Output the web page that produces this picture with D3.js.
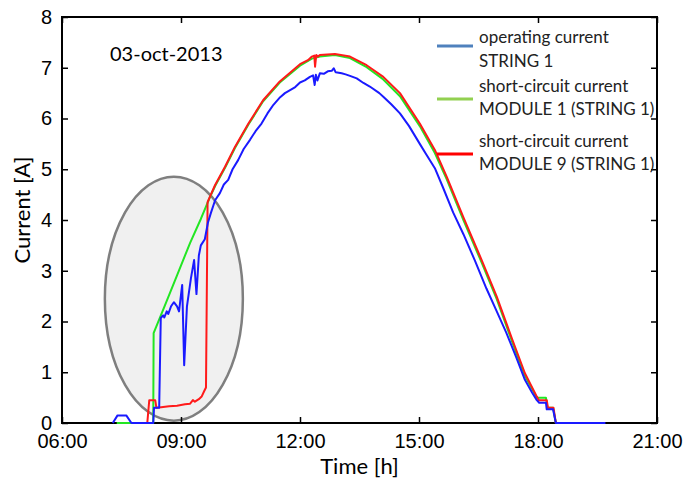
<!DOCTYPE html>
<html>
<head>
<meta charset="utf-8">
<script src="https://cdn.jsdelivr.net/npm/d3@7"></script>
<style>
  body { margin: 0; background: #fff; }
  .tick text { font-family: "Liberation Sans", Arial, sans-serif; }
</style>
</head>
<body>
<div id="chart"></div>
<script>
// operating current STRING 1 (blue)
const opTime = [7.28, 7.40, 7.62, 7.75, 8.30, 8.32, 8.45, 8.49, 8.55, 8.58, 8.64, 8.68, 8.75, 8.82, 8.90, 8.95,
  9.03, 9.08, 9.15, 9.25, 9.33, 9.39, 9.45, 9.50, 9.60, 9.68, 9.75, 9.86, 9.98, 10.08, 10.19, 10.30, 10.44,
  10.58, 10.74, 10.88, 11.03, 11.18, 11.33, 11.50, 11.62, 11.75, 11.88, 12.00, 12.12, 12.25, 12.33, 12.37,
  12.40, 12.44, 12.50, 12.60, 12.70, 12.80, 12.85, 12.90, 13.05, 13.15, 13.26, 13.43, 13.60, 13.76, 14.00,
  14.10, 14.30, 14.52, 14.75, 15.02, 15.20, 15.40, 15.60, 15.86, 16.12, 16.41, 16.70, 16.96, 17.20, 17.45,
  17.67, 17.85, 17.97, 18.03, 18.20, 18.22, 18.38, 18.45, 19.70];
const opCurrent = [0, 0.15, 0.15, 0, 0, 0.30, 0.30, 2.07, 2.12, 2.08, 2.20, 2.15, 2.30, 2.38, 2.30, 2.20,
  2.72, 1.14, 2.30, 2.85, 3.21, 2.54, 3.30, 3.50, 3.62, 3.95, 4.13, 4.39, 4.53, 4.70, 4.79, 5.00, 5.18,
  5.40, 5.58, 5.75, 5.90, 6.10, 6.27, 6.42, 6.50, 6.56, 6.62, 6.71, 6.75, 6.82, 6.85, 6.66,
  6.86, 6.75, 6.89, 6.88, 6.93, 6.94, 6.99, 6.91, 6.89, 6.87, 6.84, 6.79, 6.70, 6.63, 6.50,
  6.43, 6.28, 6.10, 5.85, 5.50, 5.27, 5.02, 4.65, 4.15, 3.72, 3.20, 2.65, 2.20, 1.78, 1.30,
  0.85, 0.60, 0.45, 0.40, 0.40, 0.27, 0.27, 0, 0];

// short-circuit current MODULE 1 (green)
const m1Time = [7.38, 8.30, 8.31, 8.60, 8.90, 9.23, 9.50, 9.73, 9.86, 10.11, 10.36, 10.70, 11.07, 11.49,
  12.00, 12.30, 12.50, 12.88, 13.26, 13.68, 14.10, 14.52, 15.02, 15.40, 15.70, 16.12, 16.58, 16.96,
  17.34, 17.67, 17.97, 18.02, 18.20, 18.24, 18.38, 18.45];
const m1Current = [0, 0, 1.77, 2.33, 2.91, 3.55, 4.02, 4.45, 4.67, 5.03, 5.42, 5.88, 6.34, 6.71,
  7.04, 7.18, 7.22, 7.25, 7.19, 7.01, 6.77, 6.44, 5.85, 5.32, 4.80, 4.00, 3.16, 2.44,
  1.62, 0.93, 0.50, 0.50, 0.50, 0.30, 0.30, 0];

// short-circuit current MODULE 9 (red)
const m9Time = [8.15, 8.20, 8.35, 8.38, 8.50, 8.70, 8.90, 9.10, 9.23, 9.30, 9.35, 9.45, 9.52, 9.58, 9.63,
  9.67, 9.73, 9.86, 10.11, 10.36, 10.70, 11.07, 11.49, 12.00, 12.20, 12.30, 12.36, 12.38, 12.41, 12.45,
  12.50, 12.88, 13.26, 13.68, 14.10, 14.52, 15.02, 15.40, 15.70, 16.12, 16.58, 16.96, 17.34, 17.67,
  17.97, 18.02, 18.22, 18.25, 18.39, 18.45];
const m9Current = [0, 0.45, 0.45, 0.30, 0.31, 0.33, 0.34, 0.37, 0.38, 0.45, 0.42, 0.47, 0.52, 0.62, 0.70,
  4.35, 4.46, 4.69, 5.05, 5.44, 5.90, 6.36, 6.73, 7.07, 7.15, 7.22, 7.24, 7.02, 7.25, 7.22,
  7.25, 7.27, 7.22, 7.05, 6.82, 6.50, 5.90, 5.38, 4.85, 4.05, 3.21, 2.49, 1.67, 0.98,
  0.52, 0.45, 0.45, 0.30, 0.30, 0];

const xTicks = [6, 9, 12, 15, 18, 21];
const yTicks = [0, 1, 2, 3, 4, 5, 6, 7, 8];
const legendLabels = [["operating current", "STRING 1"],
  ["short-circuit current", "MODULE 1 (STRING 1)"],
  ["short-circuit current", "MODULE 9 (STRING 1)"]];

const width = 684, height = 481;
const margin = { top: 17, right: 27, bottom: 58, left: 62 };
const w = width - margin.left - margin.right;
const h = height - margin.top - margin.bottom;

const svg = d3.select("#chart").append("svg")
  .attr("width", width)
  .attr("height", height);

const g = svg.append("g")
  .attr("transform", `translate(${margin.left},${margin.top})`);

const x = d3.scaleLinear().domain([6, 21]).range([0, w]);
const y = d3.scaleLinear().domain([0, 8]).range([h, 0]);

const fmt = d => String(d).padStart(2, "0") + ":00";

// the highlighted morning region
g.append("ellipse")
  .attr("cx", x(8.82))
  .attr("cy", y(2.45))
  .attr("rx", 69)
  .attr("ry", 122)
  .attr("fill", "#f0f0f0")
  .attr("stroke", "#7f7f7f")
  .attr("stroke-width", 2.5);

// axes, ticks pointing inward
const xAxis = g.append("g")
  .attr("transform", `translate(0,${h})`)
  .call(d3.axisBottom(x).tickValues(xTicks).tickFormat(fmt).tickSizeInner(-6).tickSizeOuter(0).tickPadding(11));
const yAxis = g.append("g")
  .call(d3.axisLeft(y).tickValues(yTicks).tickSizeInner(-6).tickSizeOuter(0).tickPadding(10));
g.append("g")
  .call(d3.axisTop(x).tickValues(xTicks).tickFormat("").tickSizeInner(-6).tickSizeOuter(0));
g.append("g")
  .attr("transform", `translate(${w},0)`)
  .call(d3.axisRight(y).tickValues(yTicks).tickFormat("").tickSizeInner(-6).tickSizeOuter(0));

g.selectAll(".domain").remove();
g.selectAll(".tick line").attr("stroke", "#000").attr("stroke-width", 1.5);
g.selectAll(".tick text").attr("font-size", 20).attr("fill", "#000");
xAxis.selectAll(".tick text").attr("dy", "0.71em");

g.append("rect")
  .attr("width", w)
  .attr("height", h)
  .attr("fill", "none")
  .attr("stroke", "#000")
  .attr("stroke-width", 2);

const line = d3.line()
  .x(d => x(d[0]))
  .y(d => y(d[1]));

const series = [
  { t: m1Time, v: m1Current, color: "#22e622" },
  { t: m9Time, v: m9Current, color: "#ff1a1a" },
  { t: opTime, v: opCurrent, color: "#1a1aff" }
];

series.forEach(s => {
  g.append("path")
    .datum(s.t.map((t, i) => [t, s.v[i]]))
    .attr("fill", "none")
    .attr("stroke", s.color)
    .attr("stroke-width", 2)
    .attr("stroke-linejoin", "round")
    .attr("d", line);
});

// labels
svg.append("text")
  .attr("x", margin.left + w / 2)
  .attr("y", 474)
  .attr("text-anchor", "middle")
  .attr("font-family", "Lato, sans-serif")
  .attr("font-size", 22)
  .text("Time [h]");

svg.append("text")
  .attr("transform", `translate(30,${margin.top + h / 2 - 10}) rotate(-90)`)
  .attr("text-anchor", "middle")
  .attr("font-family", "Lato, sans-serif")
  .attr("font-size", 22)
  .text("Current [A]");

svg.append("text")
  .attr("x", 110)
  .attr("y", 61)
  .attr("font-family", "Lato, sans-serif")
  .attr("font-size", 20)
  .text("03-oct-2013");

// legend
const legendColors = ["#4f81bd", "#92d050", "#ff0000"];
const legendLineY = [46, 99, 154];
const legendTextY = [43, 67, 92, 115, 147, 170];
legendLabels.forEach((lab, i) => {
  svg.append("line")
    .attr("x1", 437).attr("x2", 473)
    .attr("y1", legendLineY[i]).attr("y2", legendLineY[i])
    .attr("stroke", legendColors[i])
    .attr("stroke-width", 3);
  lab.forEach((t, j) => {
    svg.append("text")
      .attr("x", 479)
      .attr("y", legendTextY[i * 2 + j])
      .attr("font-family", "Lato, sans-serif")
      .attr("font-size", 17)
      .attr("fill", "#222")
      .text(t);
  });
});
</script>
</body>
</html>
